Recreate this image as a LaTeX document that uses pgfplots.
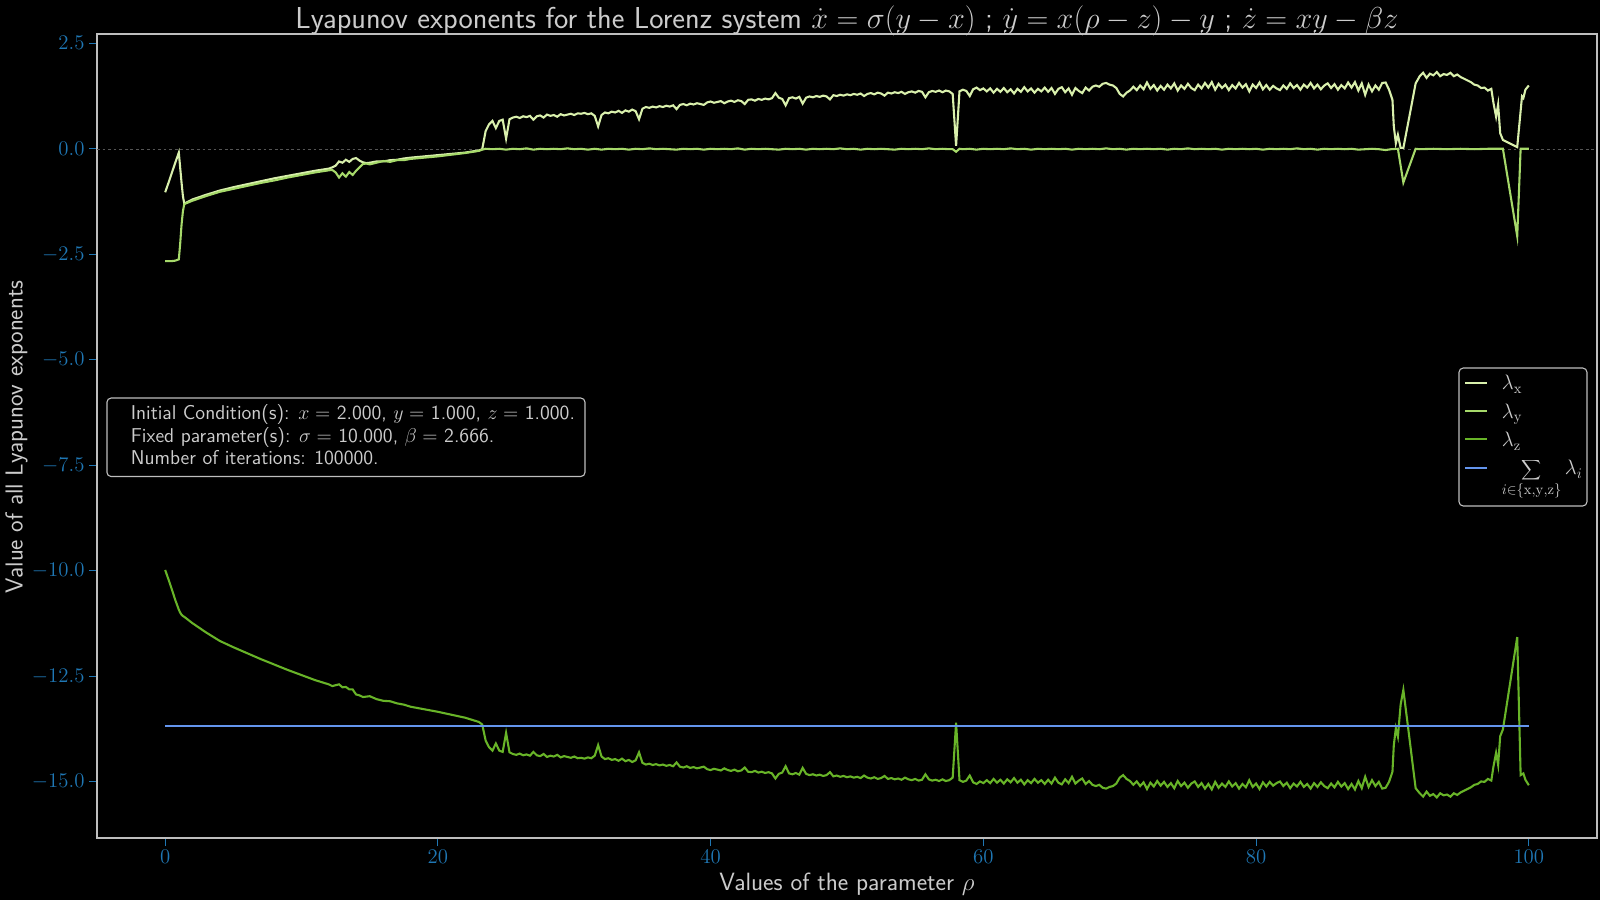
\RequirePackage{fix-cm}
\documentclass[border=0pt]{standalone}
\usepackage{pgfplots}
\usepackage{pgfplotstable}
\pgfplotsset{compat=1.18}
\renewcommand{\familydefault}{\sfdefault}
\definecolor{lx}{RGB}{217,240,172}
\definecolor{ly}{RGB}{166,217,106}
\definecolor{lz}{RGB}{104,180,40}
\definecolor{ls}{RGB}{100,149,237}
\definecolor{tickblue}{RGB}{31,119,180}
\definecolor{txt}{RGB}{204,204,204}
\definecolor{spine}{RGB}{190,190,190}

\pgfplotstableread{
r v
0 -1.03
0.25 -0.80
0.5 -0.56
0.75 -0.32
1.0 -0.09
1.1 -0.45
1.2 -0.80
1.3 -1.12
1.4 -1.30
2 -1.20
3 -1.09
4 -0.99
5 -0.91
6 -0.84
7 -0.77
8 -0.70
9 -0.64
10 -0.58
11 -0.52
12 -0.47
12.25 -0.44
12.5 -0.40
12.75 -0.30
13.0 -0.33
13.25 -0.26
13.5 -0.31
13.75 -0.24
14.0 -0.22
14.25 -0.28
14.5 -0.32
14.75 -0.34
15.0 -0.33
15.5 -0.30
16 -0.30
16.5 -0.27
17 -0.26
17.5 -0.23
18 -0.21
19 -0.18
20 -0.15
21 -0.12
22 -0.09
23 -0.04
23.25 -0.01
23.50 0.42
23.75 0.58
24.00 0.66
24.25 0.49
24.50 0.66
24.75 0.69
25.00 0.24
25.25 0.70
25.50 0.74
25.75 0.76
26.00 0.73
26.25 0.77
26.50 0.75
26.75 0.78
27.00 0.69
27.25 0.77
27.50 0.79
27.75 0.74
28.00 0.81
28.25 0.78
28.50 0.80
28.75 0.76
29.00 0.82
29.25 0.79
29.50 0.81
29.75 0.83
30.00 0.80
30.25 0.84
30.50 0.83
30.75 0.85
31.00 0.82
31.25 0.84
31.50 0.78
31.75 0.53
32.00 0.80
32.25 0.86
32.50 0.84
32.75 0.88
33.00 0.86
33.25 0.90
33.50 0.85
33.75 0.91
34.00 0.88
34.25 0.93
34.50 0.89
34.75 0.70
35.00 0.95
35.25 0.99
35.50 0.97
35.75 1.00
36.00 0.98
36.25 1.01
36.50 0.99
36.75 1.02
37.00 1.00
37.25 1.03
37.50 0.94
37.75 1.04
38.00 1.06
38.25 1.03
38.50 1.07
38.75 1.05
39.00 1.08
39.25 1.06
39.50 1.04
39.75 1.10
40.00 1.12
40.25 1.09
40.50 1.11
40.75 1.13
41.00 1.08
41.25 1.12
41.50 1.14
41.75 1.11
42.00 1.15
42.25 1.13
42.50 1.06
42.75 1.16
43.00 1.17
43.25 1.14
43.50 1.18
43.75 1.16
44.00 1.19
44.25 1.17
44.50 1.20
44.75 1.32
45.00 1.21
45.25 1.18
45.50 1.03
45.75 1.20
46.00 1.22
46.25 1.19
46.50 1.23
46.75 1.07
47.00 1.21
47.25 1.24
47.50 1.22
47.75 1.25
48.00 1.23
48.25 1.26
48.50 1.24
48.75 1.17
49.00 1.27
49.25 1.25
49.50 1.28
49.75 1.26
50.00 1.29
50.25 1.27
50.50 1.30
50.75 1.28
51.00 1.31
51.25 1.25
51.50 1.30
51.75 1.32
52.00 1.29
52.25 1.33
52.50 1.31
52.75 1.26
53.00 1.33
53.25 1.31
53.50 1.34
53.75 1.32
54.00 1.35
54.25 1.30
54.50 1.34
54.75 1.36
55.00 1.33
55.25 1.37
55.50 1.35
55.75 1.22
56.00 1.34
56.25 1.37
56.50 1.35
56.75 1.38
57.00 1.34
57.25 1.38
57.50 1.36
57.75 1.30
58.00 0.07
58.25 1.36
58.50 1.40
58.75 1.37
59.00 1.25
59.25 1.41
59.50 1.45
59.75 1.39
60.00 1.43
60.25 1.36
60.50 1.43
60.75 1.33
61.00 1.42
61.25 1.35
61.50 1.44
61.75 1.34
62.00 1.41
62.25 1.31
62.50 1.42
62.75 1.35
63.00 1.46
63.25 1.36
63.50 1.43
63.75 1.33
64.00 1.42
64.25 1.36
64.50 1.45
64.75 1.35
65.00 1.44
65.25 1.30
65.50 1.42
65.75 1.46
66.00 1.34
66.25 1.43
66.50 1.28
66.75 1.44
67.00 1.37
67.25 1.32
67.50 1.45
67.75 1.38
68.00 1.47
68.25 1.50
68.50 1.47
68.75 1.54
69.00 1.56
69.25 1.52
69.50 1.50
69.75 1.44
70.00 1.30
70.25 1.24
70.50 1.33
70.75 1.38
71.00 1.47
71.25 1.39
71.50 1.50
71.75 1.41
72.00 1.57
72.25 1.42
72.50 1.51
72.75 1.38
73.00 1.49
73.25 1.40
73.50 1.52
73.75 1.43
74.00 1.55
74.25 1.38
74.50 1.50
74.75 1.42
75.00 1.54
75.25 1.44
75.50 1.39
75.75 1.52
76.00 1.43
76.25 1.56
76.50 1.45
76.75 1.58
77.00 1.40
77.25 1.54
77.50 1.44
77.75 1.52
78.00 1.39
78.25 1.51
78.50 1.43
78.75 1.56
79.00 1.45
79.25 1.53
79.50 1.36
79.75 1.52
80.00 1.44
80.25 1.57
80.50 1.41
80.75 1.51
81.00 1.40
81.25 1.49
81.50 1.43
81.75 1.39
82.00 1.50
82.25 1.42
82.50 1.55
82.75 1.44
83.00 1.51
83.25 1.40
83.50 1.52
83.75 1.45
84.00 1.56
84.25 1.43
84.50 1.52
84.75 1.41
85.00 1.50
85.25 1.55
85.50 1.44
85.75 1.53
86.00 1.40
86.25 1.51
86.50 1.43
86.75 1.57
87.00 1.45
87.25 1.58
87.50 1.38
87.75 1.55
88.00 1.28
88.25 1.52
88.50 1.36
88.75 1.50
89.00 1.40
89.25 1.56
89.50 1.57
89.75 1.40
90.00 1.16
90.10 0.53
90.25 0.13
90.40 0.33
90.60 0.02
90.80 0.02
91.25 0.78
91.70 1.55
92.00 1.72
92.25 1.80
92.50 1.68
92.75 1.78
93.00 1.74
93.25 1.82
93.50 1.72
93.75 1.77
94.00 1.75
94.25 1.80
94.50 1.72
94.75 1.76
95.00 1.70
95.25 1.66
95.50 1.62
95.75 1.58
96.00 1.52
96.25 1.50
96.50 1.44
96.75 1.45
97.00 1.38
97.25 1.42
97.40 1.10
97.60 0.76
97.75 1.05
97.90 0.37
98.10 0.21
99.15 0.04
99.50 1.24
99.60 1.20
99.75 1.40
100.0 1.50
}\tlx

\pgfplotstableread{
r v
0 -2.66
0.25 -2.66
0.5 -2.66
0.75 -2.65
1.0 -2.62
1.1 -2.25
1.2 -1.80
1.3 -1.48
1.4 -1.31
2 -1.23
3 -1.12
4 -1.02
5 -0.95
6 -0.88
7 -0.81
8 -0.75
9 -0.68
10 -0.62
11 -0.56
12 -0.51
12.25 -0.50
12.5 -0.56
12.75 -0.68
13.0 -0.58
13.25 -0.66
13.5 -0.55
13.75 -0.62
14.0 -0.52
14.25 -0.44
14.5 -0.36
14.75 -0.35
15.0 -0.37
15.5 -0.33
16 -0.29
16.5 -0.31
17 -0.27
17.5 -0.27
18 -0.24
19 -0.21
20 -0.18
21 -0.14
22 -0.10
23 -0.05
23.25 -0.02
23.5 0.00
24.0 -0.01
24.5 0.00
25.0 -0.02
25.5 0.00
26.0 -0.01
26.5 0.01
27.0 -0.02
27.5 0.00
28.0 -0.01
28.5 0.00
29.0 -0.01
29.5 0.01
30.0 -0.01
30.5 0.00
31.0 -0.02
31.5 0.00
32.0 -0.02
32.5 0.00
33.0 -0.01
33.5 0.00
34.0 -0.02
34.5 0.00
35.0 -0.01
35.5 0.01
36.0 -0.01
36.5 0.00
37.0 -0.01
37.5 -0.02
38.0 0.00
38.5 -0.01
39.0 0.00
39.5 -0.02
40.0 0.00
40.5 -0.01
41.0 0.00
41.5 -0.01
42.0 0.01
42.5 -0.02
43.0 0.00
43.5 -0.01
44.0 0.00
44.5 -0.01
45.0 -0.02
45.5 0.00
46.0 -0.01
46.5 0.00
47.0 -0.02
47.5 0.00
48.0 -0.01
48.5 0.00
49.0 -0.01
49.5 0.01
50.0 -0.01
50.5 0.00
51.0 -0.02
51.5 0.00
52.0 -0.01
52.5 0.00
53.0 -0.01
53.5 -0.02
54.0 0.00
54.5 -0.01
55.0 0.00
55.5 -0.01
56.0 0.01
56.5 -0.01
57.0 0.00
57.5 -0.01
57.75 -0.01
58.0 -0.07
58.25 0.00
58.5 -0.01
59.0 0.00
59.5 -0.02
60.0 0.00
60.5 -0.01
61.0 0.00
61.5 -0.01
62.0 0.01
62.5 -0.01
63.0 0.00
63.5 -0.02
64.0 0.00
64.5 -0.01
65.0 0.00
65.5 -0.01
66.0 0.00
66.5 -0.02
67.0 0.00
67.5 -0.01
68.0 0.00
68.5 -0.01
69.0 0.01
69.5 -0.01
70.0 0.00
70.5 -0.02
71.0 0.00
71.5 -0.01
72.0 0.00
72.5 -0.01
73.0 0.00
73.5 -0.02
74.0 0.00
74.5 -0.01
75.0 0.01
75.5 -0.01
76.0 0.00
76.5 -0.01
77.0 0.00
77.5 -0.02
78.0 0.00
78.5 -0.01
79.0 0.00
79.5 -0.01
80.0 0.00
80.5 -0.02
81.0 0.00
81.5 -0.01
82.0 0.00
82.5 -0.01
83.0 0.01
83.5 -0.01
84.0 0.00
84.5 -0.02
85.0 0.00
85.5 -0.01
86.0 0.00
86.5 -0.01
87.0 0.00
87.5 -0.02
88.0 -0.01
88.5 0.00
89.0 -0.01
89.5 -0.03
89.9 -0.01
90.4 0.00
90.8 -0.80
91.7 0.00
92.0 -0.01
93.0 0.00
94.0 -0.01
95.0 0.00
96.0 -0.01
97.0 0.00
98.1 0.00
99.15 -2.07
99.4 0.00
100.0 0.00
}\tly

\pgfplotstableread{
r v
0 -9.98
0.25 -10.21
0.5 -10.45
0.75 -10.70
1.0 -10.92
1.1 -10.99
1.2 -11.04
1.3 -11.07
1.4 -11.09
2 -11.24
3 -11.46
4 -11.66
5 -11.81
6 -11.95
7 -12.09
8 -12.22
9 -12.35
10 -12.47
11 -12.59
12 -12.69
12.25 -12.73
12.5 -12.71
12.75 -12.69
13.0 -12.76
13.25 -12.75
13.5 -12.81
13.75 -12.81
14.0 -12.93
14.25 -12.95
14.5 -12.99
14.75 -12.98
15.0 -12.97
15.5 -13.04
16 -13.08
16.5 -13.09
17 -13.14
17.5 -13.17
18 -13.22
19 -13.28
20 -13.34
21 -13.41
22 -13.48
23 -13.58
23.25 -13.64
23.50 -14.02
23.75 -14.18
24.00 -14.26
24.25 -14.09
24.50 -14.26
24.75 -14.29
25.00 -13.84
25.25 -14.30
25.50 -14.34
25.75 -14.36
26.00 -14.33
26.25 -14.37
26.50 -14.35
26.75 -14.38
27.00 -14.29
27.25 -14.37
27.50 -14.39
27.75 -14.34
28.00 -14.41
28.25 -14.38
28.50 -14.40
28.75 -14.36
29.00 -14.42
29.25 -14.39
29.50 -14.41
29.75 -14.43
30.00 -14.40
30.25 -14.44
30.50 -14.43
30.75 -14.45
31.00 -14.42
31.25 -14.44
31.50 -14.38
31.75 -14.13
32.00 -14.40
32.25 -14.46
32.50 -14.44
32.75 -14.48
33.00 -14.46
33.25 -14.50
33.50 -14.45
33.75 -14.51
34.00 -14.48
34.25 -14.53
34.50 -14.49
34.75 -14.30
35.00 -14.55
35.25 -14.59
35.50 -14.57
35.75 -14.60
36.00 -14.58
36.25 -14.61
36.50 -14.59
36.75 -14.62
37.00 -14.60
37.25 -14.63
37.50 -14.54
37.75 -14.64
38.00 -14.66
38.25 -14.63
38.50 -14.67
38.75 -14.65
39.00 -14.68
39.25 -14.66
39.50 -14.64
39.75 -14.70
40.00 -14.72
40.25 -14.69
40.50 -14.71
40.75 -14.73
41.00 -14.68
41.25 -14.72
41.50 -14.74
41.75 -14.71
42.00 -14.75
42.25 -14.73
42.50 -14.66
42.75 -14.76
43.00 -14.77
43.25 -14.74
43.50 -14.78
43.75 -14.76
44.00 -14.79
44.25 -14.77
44.50 -14.80
44.75 -14.92
45.00 -14.81
45.25 -14.78
45.50 -14.63
45.75 -14.80
46.00 -14.82
46.25 -14.79
46.50 -14.83
46.75 -14.67
47.00 -14.81
47.25 -14.84
47.50 -14.82
47.75 -14.85
48.00 -14.83
48.25 -14.86
48.50 -14.84
48.75 -14.77
49.00 -14.87
49.25 -14.85
49.50 -14.88
49.75 -14.86
50.00 -14.89
50.25 -14.87
50.50 -14.90
50.75 -14.88
51.00 -14.91
51.25 -14.85
51.50 -14.90
51.75 -14.92
52.00 -14.89
52.25 -14.93
52.50 -14.91
52.75 -14.86
53.00 -14.93
53.25 -14.91
53.50 -14.94
53.75 -14.92
54.00 -14.95
54.25 -14.90
54.50 -14.94
54.75 -14.96
55.00 -14.93
55.25 -14.97
55.50 -14.95
55.75 -14.82
56.00 -14.94
56.25 -14.97
56.50 -14.95
56.75 -14.98
57.00 -14.94
57.25 -14.98
57.50 -14.96
57.75 -14.90
58.00 -13.60
58.25 -14.96
58.50 -15.00
58.75 -14.97
59.00 -14.85
59.25 -15.01
59.50 -15.05
59.75 -14.99
60.00 -15.03
60.25 -14.96
60.50 -15.03
60.75 -14.93
61.00 -15.02
61.25 -14.95
61.50 -15.04
61.75 -14.94
62.00 -15.01
62.25 -14.91
62.50 -15.02
62.75 -14.95
63.00 -15.06
63.25 -14.96
63.50 -15.03
63.75 -14.93
64.00 -15.02
64.25 -14.96
64.50 -15.05
64.75 -14.95
65.00 -15.04
65.25 -14.90
65.50 -15.02
65.75 -15.06
66.00 -14.94
66.25 -15.03
66.50 -14.88
66.75 -15.04
67.00 -14.97
67.25 -14.92
67.50 -15.05
67.75 -14.98
68.00 -15.07
68.25 -15.10
68.50 -15.07
68.75 -15.14
69.00 -15.16
69.25 -15.12
69.50 -15.10
69.75 -15.04
70.00 -14.90
70.25 -14.84
70.50 -14.93
70.75 -14.98
71.00 -15.07
71.25 -14.99
71.50 -15.10
71.75 -15.01
72.00 -15.17
72.25 -15.02
72.50 -15.11
72.75 -14.98
73.00 -15.09
73.25 -15.00
73.50 -15.12
73.75 -15.03
74.00 -15.15
74.25 -14.98
74.50 -15.10
74.75 -15.02
75.00 -15.14
75.25 -15.04
75.50 -14.99
75.75 -15.12
76.00 -15.03
76.25 -15.16
76.50 -15.05
76.75 -15.18
77.00 -15.00
77.25 -15.14
77.50 -15.04
77.75 -15.12
78.00 -14.99
78.25 -15.11
78.50 -15.03
78.75 -15.16
79.00 -15.05
79.25 -15.13
79.50 -14.96
79.75 -15.12
80.00 -15.04
80.25 -15.17
80.50 -15.01
80.75 -15.11
81.00 -15.00
81.25 -15.09
81.50 -15.03
81.75 -14.99
82.00 -15.10
82.25 -15.02
82.50 -15.15
82.75 -15.04
83.00 -15.11
83.25 -15.00
83.50 -15.12
83.75 -15.05
84.00 -15.16
84.25 -15.03
84.50 -15.12
84.75 -15.01
85.00 -15.10
85.25 -15.15
85.50 -15.04
85.75 -15.13
86.00 -15.00
86.25 -15.11
86.50 -15.03
86.75 -15.17
87.00 -15.05
87.25 -15.18
87.50 -14.98
87.75 -15.15
88.00 -14.88
88.25 -15.12
88.50 -14.96
88.75 -15.10
89.00 -15.00
89.25 -15.16
89.50 -15.14
89.75 -15.00
90.00 -14.76
90.10 -14.13
90.25 -13.73
90.40 -13.93
90.60 -13.17
90.80 -12.82
91.25 -13.98
91.70 -15.15
92.00 -15.27
92.25 -15.35
92.50 -15.23
92.75 -15.33
93.00 -15.29
93.25 -15.37
93.50 -15.27
93.75 -15.32
94.00 -15.30
94.25 -15.35
94.50 -15.27
94.75 -15.31
95.00 -15.25
95.25 -15.21
95.50 -15.17
95.75 -15.13
96.00 -15.07
96.25 -15.05
96.50 -14.99
96.75 -15.00
97.00 -14.93
97.25 -14.97
97.40 -14.65
97.60 -14.31
97.75 -14.60
97.90 -13.92
98.10 -13.76
99.15 -11.57
99.40 -14.84
99.60 -14.80
99.75 -14.95
100.0 -15.08
}\tlz

\begin{document}
\begin{tikzpicture}[x=1pt,y=1pt]
\fill[black] (0,0) rectangle (1152,648);
\begin{axis}[
  at={(69.84pt,44.64pt)}, anchor=south west,
  scale only axis, width=1080pt, height=578.88pt,
  xmin=-5, xmax=105, ymin=-16.33, ymax=2.72,
  xtick={0,20,40,60,80,100},
  ytick={-15,-12.5,-10,-7.5,-5,-2.5,0,2.5},
  axis line style={spine, line width=1pt},
  tick style={tickblue, line width=0.8pt},
  major tick length=5.5pt,
  tick align=outside, xtick pos=bottom, ytick pos=left,
  ticklabel style={tickblue, font=\fontsize{15}{18}\selectfont},
  scaled y ticks=false,
  yticklabel style={/pgf/number format/.cd, fixed, fixed zerofill, precision=1},
]
\addplot[color={rgb,255:red,85;green,85;blue,85}, dash pattern=on 2pt off 2pt, line width=0.4pt] coordinates {(-5,0) (105,0)};
\addplot[lx, line width=1.5pt] table[x=r, y=v] {\tlx};
\addplot[ly, line width=1.5pt] table[x=r, y=v] {\tly};
\addplot[lz, line width=1.5pt] table[x=r, y=v] {\tlz};
\addplot[ls, line width=1.5pt] coordinates {(0,-13.666) (25,-13.666) (50,-13.666) (75,-13.666) (100,-13.666)};
\end{axis}
% title and labels
\node[anchor=base, text=txt, font=\fontsize{21.8}{26}\selectfont] at (609.8,627.8)
  {Lyapunov exponents for the Lorenz system $\dot{x}=\sigma(y-x)$ ; $\dot{y}=x(\rho-z)-y$ ; $\dot{z}=xy-\beta z$};
\node[anchor=base, text=txt, font=\fontsize{18}{21}\selectfont] at (609.8,6.5)
  {Values of the parameter $\rho$};
\node[anchor=base, rotate=90, text=txt, font=\fontsize{17.7}{21}\selectfont] at (16.2,333.4)
  {Value of all Lyapunov exponents};
% info box
\draw[spine, line width=0.8pt, rounded corners=3pt, fill=black] (77.0,304.9) rectangle (421.2,361.4);
\node[anchor=base west, text=txt, font=\fontsize{14.4}{17}\selectfont, inner sep=0pt] at (94,346.1)
  {Initial Condition(s): $x=$ 2.000, $y=$ 1.000, $z=$ 1.000.};
\node[anchor=base west, text=txt, font=\fontsize{14.4}{17}\selectfont, inner sep=0pt] at (94,329.5)
  {Fixed parameter(s): $\sigma=$ 10.000, $\beta=$ 2.666.};
\node[anchor=base west, text=txt, font=\fontsize{14.4}{17}\selectfont, inner sep=0pt] at (94,313.2)
  {Number of iterations: 100000.};
% legend
\draw[spine, line width=0.8pt, rounded corners=3pt, fill=black] (1050.5,283.7) rectangle (1142.6,383.0);
\draw[lx, line width=1.5pt] (1054.8,372.4) -- (1070.6,372.4);
\draw[ly, line width=1.5pt] (1054.8,352.3) -- (1070.6,352.3);
\draw[lz, line width=1.5pt] (1054.8,331.7) -- (1070.6,331.7);
\draw[ls, line width=1.5pt] (1054.8,310.8) -- (1070.6,310.8);
\node[anchor=base west, inner sep=0pt, text=txt, font=\fontsize{15}{18}\selectfont] at (1081.2,367.2) {$\lambda_{\mathrm{x}}$};
\node[anchor=base west, inner sep=0pt, text=txt, font=\fontsize{15}{18}\selectfont] at (1081.2,347.0) {$\lambda_{\mathrm{y}}$};
\node[anchor=base west, inner sep=0pt, text=txt, font=\fontsize{15}{18}\selectfont] at (1081.2,326.2) {$\lambda_{\mathrm{z}}$};
\node[anchor=base west, inner sep=0pt, text=txt, font=\fontsize{15}{18}\selectfont] at (1081.2,306.0) {$\displaystyle\sum_{i\in\{\mathrm{x,y,z}\}}\lambda_i$};
\end{tikzpicture}
\end{document}
